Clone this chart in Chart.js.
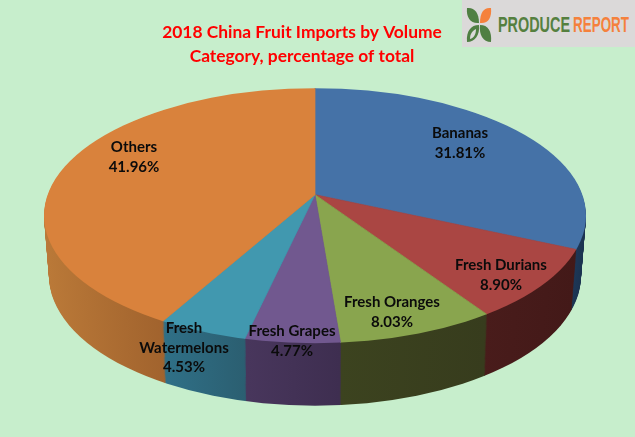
<!DOCTYPE html>
<html>
<head>
<meta charset="utf-8">
<title>2018 China Fruit Imports by Volume</title>
<script src="https://cdn.jsdelivr.net/npm/chart.js@4"></script>
<style>
    html, body { margin: 0; padding: 0; background: #c7eecc; overflow: hidden; }
    #wrap { position: relative; width: 635px; height: 437px; }
    canvas { position: absolute; left: 0; top: 0; }
    #logo { position: absolute; left: 462px; top: 0; }
</style>
</head>
<body>
<div id="wrap">
    <canvas id="pie" width="604" height="437"></canvas>
    <svg id="logo" width="173" height="47" viewBox="0 0 173 47">
        <rect width="173" height="47" fill="#dbd9d9"/>
        <path d="M5 8 C12 7 17 12 17 23 C9 24 4 18 5 8Z" fill="#4f7f42"/>
        <path d="M29 8 C22 7 18 12 18 23 C26 24 30 18 29 8Z" fill="#f5813c"/>
        <path d="M17 25 C9 25 4 31 5 42 C13 42 18 35 17 25Z" fill="#4f7f42"/>
        <path d="M14 29 C10 31 8 34 8 39 C12 38 14 34 14 29Z" fill="#dbd9d9"/>
        <path d="M18 25 C26 25 30 31 29 42 C21 42 17 35 18 25Z" fill="#4f7f42"/>
        <text x="36" y="32" font-family="'Liberation Sans Narrow', 'Liberation Sans'" font-size="22" font-weight="bold" fill="#55803f" textLength="72" lengthAdjust="spacingAndGlyphs">PRODUCE</text>
        <text x="111" y="32" font-family="'Liberation Sans Narrow', 'Liberation Sans'" font-size="22" font-weight="bold" fill="#f5813c" textLength="56" lengthAdjust="spacingAndGlyphs">REPORT</text>
    </svg>
</div>
<script>
// Chart data
const categories = ['Bananas', 'Fresh Durians', 'Fresh Oranges', 'Fresh Grapes', 'Fresh Watermelons', 'Others'];
const shares = [31.81, 8.90, 8.03, 4.77, 4.53, 41.96];
const titleLines = ['2018 China Fruit Imports by Volume', 'Category, percentage of total'];

// Slice colors: top face, then side wall at its left and right ends
const faceColors = ['#4572a7', '#aa4643', '#89a54e', '#71588f', '#4198af', '#d9823c'];
const wallLeft = ['#1e3a5c', '#491c1b', '#3c431f', '#48365c', '#2f6f86', '#ba7938'];
const wallRight = ['#1b3350', '#431918', '#373c1d', '#3e2e50', '#2b5e70', '#a0622d'];
const wallSpans = [[570, 586], [484, 578], [340, 487], [247, 340], [165, 247], [44, 167]];

// Label text lines and where each block sits
const labelLines = [
    ['Bananas', '31.81%'],
    ['Fresh Durians', '8.90%'],
    ['Fresh Oranges', '8.03%'],
    ['Fresh Grapes', '4.77%'],
    ['Fresh', 'Watermelons', '4.53%'],
    ['Others', '41.96%']
];
const labelAnchors = [[460, 133], [501, 265], [392, 302], [292, 331], [184, 328], [134, 147]];

// Projection of the flat pie: the rim is an ellipse that is not centred on the apex
const pieShiftX = 13;
const squash = 0.46;
const rimTop = { dy: 21, rx: 271, ry: 127.5 };
const rimBottom = { dy: 81, rx: 266, ry: 130 };
const wallDepth = 60;
const wallNarrow = 0.975;

function drawSlices(chart, ctx, depth, paint) {
    const arcs = chart.getDatasetMeta(0).data;
    const cx = arcs[0].x + pieShiftX;
    const cy = arcs[0].y;
    const t = depth / wallDepth;

    ctx.save();
    ctx.beginPath();
    ctx.ellipse(cx,
        cy + rimTop.dy + (rimBottom.dy - rimTop.dy) * t,
        rimTop.rx + (rimBottom.rx - rimTop.rx) * t,
        rimTop.ry + (rimBottom.ry - rimTop.ry) * t,
        0, 0, Math.PI * 2);
    ctx.clip();

    // Squash around the apex, which also slides down with the wall
    ctx.translate(cx, cy + depth);
    ctx.scale(1 + (wallNarrow - 1) * t, squash);
    ctx.translate(-arcs[0].x, -cy);

    arcs.forEach(function(arc, i) {
        const saved = arc.options.backgroundColor;
        const savedBorder = arc.options.borderColor;
        arc.options.backgroundColor = paint(i);
        arc.options.borderColor = arc.options.backgroundColor;
        arc.draw(ctx);
        arc.options.backgroundColor = saved;
        arc.options.borderColor = savedBorder;
    });
    ctx.restore();
}

const pie3d = {
    id: 'pie3d',
    beforeDatasetDraw: function(chart) {
        const ctx = chart.ctx;
        const gradients = faceColors.map(function(c, i) {
            // Gradient runs in the pie's own x, so take the shift back off
            const g = ctx.createLinearGradient(wallSpans[i][0] - pieShiftX, 0, wallSpans[i][1] - pieShiftX, 0);
            g.addColorStop(0, wallLeft[i]);
            g.addColorStop(1, wallRight[i]);
            return g;
        });
        // Stack the wall from the bottom up
        for (let d = wallDepth; d > 0; d--) {
            drawSlices(chart, ctx, d, function(i) { return gradients[i]; });
        }
        drawSlices(chart, ctx, 0, function(i) { return faceColors[i]; });
        return false;
    },
    afterDraw: function(chart) {
        const ctx = chart.ctx;
        ctx.save();
        ctx.font = 'bold 15px Lato';
        ctx.fillStyle = '#0b0b0b';
        ctx.textAlign = 'center';
        ctx.textBaseline = 'middle';
        labelLines.forEach(function(lines, i) {
            lines.forEach(function(line, j) {
                ctx.fillText(line, labelAnchors[i][0], labelAnchors[i][1] + j * 19.7);
            });
        });
        ctx.restore();
    }
};

new Chart(document.getElementById('pie'), {
    type: 'pie',
    data: {
        labels: categories,
        datasets: [{
            data: shares,
            backgroundColor: faceColors,
            borderColor: faceColors,
            borderWidth: 1,
            clip: false
        }]
    },
    options: {
        responsive: false,
        animation: false,
        radius: 340,
        layout: { padding: { left: 0, right: 0, top: 0, bottom: 116 } },
        plugins: {
            legend: { display: false },
            tooltip: { enabled: false },
            title: {
                display: true,
                text: titleLines,
                color: '#ff0000',
                font: { family: 'Lato', size: 17.4, weight: 'bold', lineHeight: 1.36 },
                padding: { top: 21, bottom: 0 }
            }
        }
    },
    plugins: [pie3d]
});
</script>
</body>
</html>
